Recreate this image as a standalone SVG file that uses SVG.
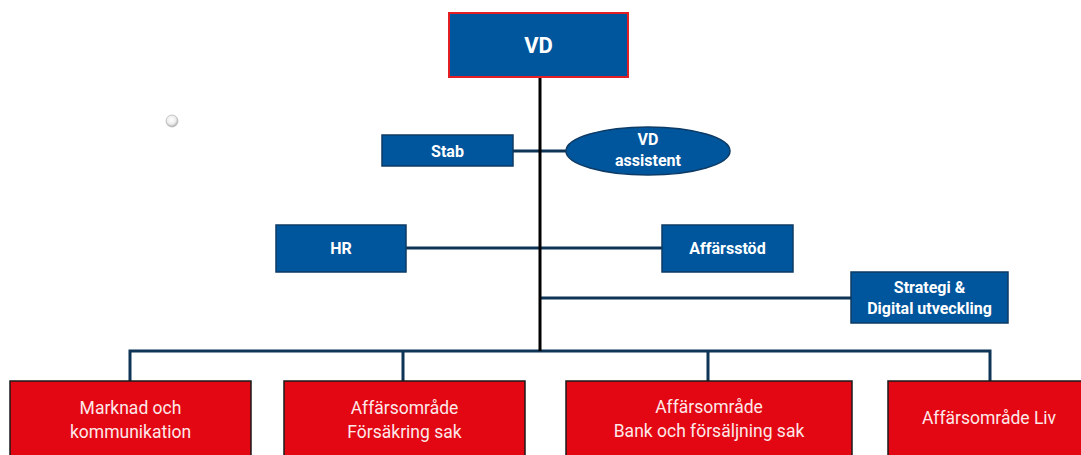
<svg xmlns="http://www.w3.org/2000/svg" width="1081" height="455" viewBox="0 0 1081 455">
<style>
.blue{fill:#00569d;stroke:#0d3b66;stroke-width:1.5}
.red{fill:#e30613;stroke:#1a1a1a;stroke-width:1.5}
.bt{font-family:Roboto,"Liberation Sans",sans-serif;font-weight:bold;fill:#fff;font-size:16px;text-anchor:middle}
.rt{font-family:Roboto,"Liberation Sans",sans-serif;fill:#fde8e8;font-size:17.5px;text-anchor:middle}
.nav{stroke:#0f3556;stroke-width:3;fill:none}
</style>
<defs>
<radialGradient id="g" cx="0.45" cy="0.4" r="0.6">
<stop offset="0" stop-color="#ffffff"/>
<stop offset="0.6" stop-color="#eeeeee"/>
<stop offset="1" stop-color="#aaaaaa"/>
</radialGradient>
</defs>
<rect width="1081" height="455" fill="#fff"/>
<g id="connectors">
<path class="nav" d="M513 151H566 M406 248H662 M540 298H851 M130 381V351H990V381 M403 351V381 M708 351V381"/>
<path d="M540 77V351" stroke="#000" stroke-width="3" fill="none"/>
</g>
<circle cx="172" cy="121" r="6" fill="url(#g)" stroke="#bbb" stroke-width="0.8"/>
<g id="vd"><rect x="449" y="13" width="179" height="64" fill="#00569d" stroke="#e31e24" stroke-width="2"/><text class="bt" x="538.5" y="53" style="font-size:22px">VD</text></g>
<g id="stab"><rect class="blue" x="382" y="135" width="131" height="31"/><text class="bt" x="447.5" y="157">Stab</text></g>
<g id="vdassistent"><ellipse class="blue" cx="648" cy="151" rx="82" ry="24"/><text class="bt" x="648" y="145">VD</text><text class="bt" x="648" y="166">assistent</text></g>
<g id="hr"><rect class="blue" x="276" y="225" width="130" height="47"/><text class="bt" x="341" y="254">HR</text></g>
<g id="affarsstod"><rect class="blue" x="662" y="225" width="131" height="47"/><text class="bt" x="727.5" y="254">Affärsstöd</text></g>
<g id="strategi"><rect class="blue" x="851" y="272" width="157" height="51"/><text class="bt" x="929.5" y="293">Strategi &amp;</text><text class="bt" x="929.5" y="314">Digital utveckling</text></g>
<g id="marknad"><rect class="red" x="10" y="381" width="241" height="80"/><text class="rt" x="130.5" y="414">Marknad och</text><text class="rt" x="130.5" y="438">kommunikation</text></g>
<g id="forsakring"><rect class="red" x="284" y="381" width="241" height="80"/><text class="rt" x="404.5" y="414">Affärsområde</text><text class="rt" x="404.5" y="438">Försäkring sak</text></g>
<g id="bank"><rect class="red" x="566" y="381" width="286" height="80"/><text class="rt" x="709" y="413">Affärsområde</text><text class="rt" x="709" y="437">Bank och försäljning sak</text></g>
<g id="liv"><rect class="red" x="888" y="381" width="200" height="80"/><text class="rt" x="989" y="424">Affärsområde Liv</text></g>
</svg>
